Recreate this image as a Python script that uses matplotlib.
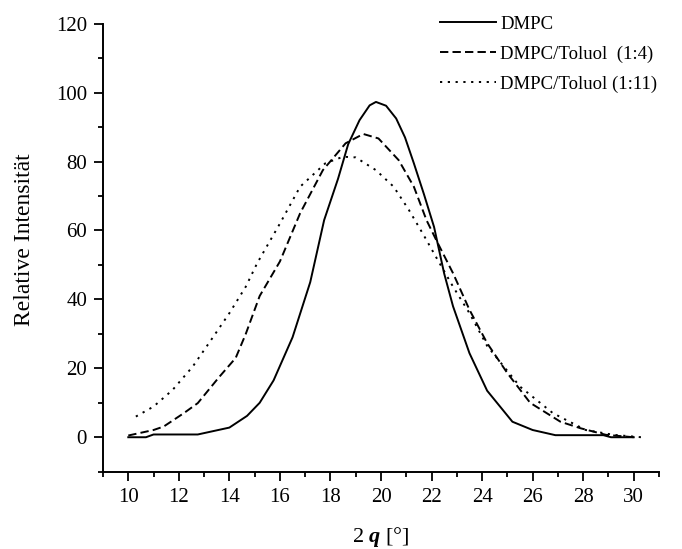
import matplotlib
matplotlib.use("Agg")
import matplotlib.pyplot as plt
from matplotlib.ticker import MultipleLocator

plt.rcParams['font.family'] = ['Liberation Serif', 'DejaVu Serif']
plt.rcParams['lines.scale_dashes'] = False
plt.rcParams['mathtext.fontset'] = 'custom'
plt.rcParams['mathtext.bfit'] = 'Liberation Serif:bold:italic'

# Data
dmpc_x = [10, 10.7, 11.0, 12.75, 14.0, 14.7, 15.2, 15.75, 16.5, 17.2, 17.75, 18.3, 18.7,
          19.15, 19.55, 19.8, 20.2, 20.6, 20.95, 21.3, 21.7, 22.1, 22.5, 22.85, 23.5,
          24.2, 25.2, 26.0, 26.9, 28.8, 29.1, 30.0]
dmpc_y = [0, 0, 0.8, 0.8, 2.8, 6.2, 10, 16.5, 29, 45, 63, 75, 85, 92, 96.3, 97.3, 96.2,
          92.5, 87, 79.5, 70.5, 61, 47.5, 38, 24.4, 13.5, 4.5, 2.1, 0.6, 0.6, 0, 0]

tol4_x = [10, 11.0, 11.4, 12.2, 12.75, 13.6, 14.25, 14.65, 15.2, 16.0, 16.8, 17.7, 18.6,
          19.3, 19.9, 20.7, 21.3, 21.8, 22.2, 22.85, 23.5, 24.2, 25.0, 25.9, 27.1, 27.9,
          28.9, 30.0]
tol4_y = [0.5, 2.1, 3.1, 7, 9.9, 17.5, 23, 30, 41, 51, 65, 77.5, 85.3, 88, 86.7, 80.4,
          72.7, 63, 57, 47.6, 37, 27.3, 18.6, 10, 4.5, 2.6, 0.7, 0]

tol11_x = [10.3, 11.0, 11.75, 12.55, 13.35, 14.0, 14.65, 15.1, 16.0, 16.8, 17.8, 18.5,
           19.0, 19.8, 20.5, 21.1, 21.7, 22.2, 22.85, 23.5, 24.2, 25.5, 26.8, 28.1, 29.2,
           30.3]
tol11_y = [6, 8.9, 13.7, 20.5, 29, 36, 43.7, 50.5, 62, 72.7, 79.5, 81.4, 81.2, 77.5, 72.7,
           66, 58.5, 52, 43.7, 36, 26.5, 14.7, 7, 2.1, 0.7, 0]

labels = ["DMPC", "DMPC/Toluol  (1:4)", "DMPC/Toluol (1:11)"]

fig = plt.figure(figsize=(6.82, 5.49), dpi=100)
ax = fig.add_axes([103/682, 1 - 471.7/549, (659 - 103)/682, (471.7 - 23.7)/549])

ax.plot(dmpc_x, dmpc_y, color='black', lw=1.4, linestyle='-', label=labels[0])
ax.plot(tol4_x, tol4_y, color='black', lw=1.4, linestyle=(0, (6, 3)), label=labels[1])
ax.plot(tol11_x, tol11_y, color='black', lw=1.4, linestyle=(0, (1.6, 4)), label=labels[2])

ax.set_xlim(9, 31)
ax.set_ylim(-10, 120)
ax.xaxis.set_major_locator(MultipleLocator(2))
ax.xaxis.set_minor_locator(MultipleLocator(1))
ax.yaxis.set_major_locator(MultipleLocator(20))
ax.yaxis.set_minor_locator(MultipleLocator(10))
ax.set_xticks(range(10, 31, 2))

for s in ['top', 'right']:
    ax.spines[s].set_visible(False)
for s in ['left', 'bottom']:
    ax.spines[s].set_linewidth(1.4)

ax.tick_params(which='major', direction='out', length=6.5, width=1.3, labelsize=15, pad=5)
ax.tick_params(which='minor', direction='out', length=3.8, width=1.3)

ax.set_ylabel("Relative Intensität", fontsize=17)
ax.yaxis.set_label_coords(-0.123, 0.517)
ax.set_xlabel(r"2 $\boldsymbol{q}$ [°]", fontsize=16)
ax.xaxis.set_label_coords(0.5, -0.118)

leg = ax.legend(loc='upper left', bbox_to_anchor=(440/682, 1 - 15.5/549),
                bbox_transform=fig.transFigure, frameon=False, fontsize=13.5,
                handlelength=3.0, handletextpad=0.22, labelspacing=0.68,
                borderpad=0, borderaxespad=0)

fig.savefig("out.png", dpi=100)
